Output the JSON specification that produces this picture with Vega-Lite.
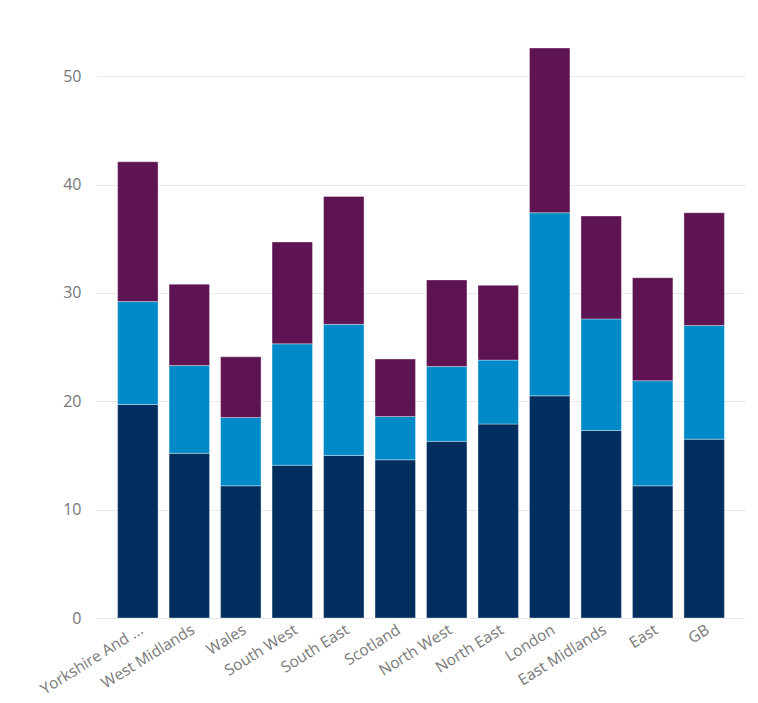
{
  "$schema": "https://vega.github.io/schema/vega-lite/v6.json",
  "width": 648,
  "height": 596,
  "autosize": "none",
  "padding": {"top": 22, "left": 97, "right": 13, "bottom": 85},
  "background": "white",
  "config": {
    "font": "Open Sans",
    "view": {"stroke": null}
  },
  "data": {
    "values": [
      {"region": "Yorkshire And The Humber", "series": "Series 1", "order": 1, "value": 19.7},
      {"region": "Yorkshire And The Humber", "series": "Series 2", "order": 2, "value": 9.5},
      {"region": "Yorkshire And The Humber", "series": "Series 3", "order": 3, "value": 12.9},
      {"region": "West Midlands", "series": "Series 1", "order": 1, "value": 15.2},
      {"region": "West Midlands", "series": "Series 2", "order": 2, "value": 8.1},
      {"region": "West Midlands", "series": "Series 3", "order": 3, "value": 7.5},
      {"region": "Wales", "series": "Series 1", "order": 1, "value": 12.2},
      {"region": "Wales", "series": "Series 2", "order": 2, "value": 6.3},
      {"region": "Wales", "series": "Series 3", "order": 3, "value": 5.6},
      {"region": "South West", "series": "Series 1", "order": 1, "value": 14.1},
      {"region": "South West", "series": "Series 2", "order": 2, "value": 11.2},
      {"region": "South West", "series": "Series 3", "order": 3, "value": 9.4},
      {"region": "South East", "series": "Series 1", "order": 1, "value": 15.0},
      {"region": "South East", "series": "Series 2", "order": 2, "value": 12.1},
      {"region": "South East", "series": "Series 3", "order": 3, "value": 11.8},
      {"region": "Scotland", "series": "Series 1", "order": 1, "value": 14.6},
      {"region": "Scotland", "series": "Series 2", "order": 2, "value": 4.0},
      {"region": "Scotland", "series": "Series 3", "order": 3, "value": 5.3},
      {"region": "North West", "series": "Series 1", "order": 1, "value": 16.3},
      {"region": "North West", "series": "Series 2", "order": 2, "value": 6.9},
      {"region": "North West", "series": "Series 3", "order": 3, "value": 8.0},
      {"region": "North East", "series": "Series 1", "order": 1, "value": 17.9},
      {"region": "North East", "series": "Series 2", "order": 2, "value": 5.9},
      {"region": "North East", "series": "Series 3", "order": 3, "value": 6.9},
      {"region": "London", "series": "Series 1", "order": 1, "value": 20.5},
      {"region": "London", "series": "Series 2", "order": 2, "value": 16.9},
      {"region": "London", "series": "Series 3", "order": 3, "value": 15.2},
      {"region": "East Midlands", "series": "Series 1", "order": 1, "value": 17.3},
      {"region": "East Midlands", "series": "Series 2", "order": 2, "value": 10.3},
      {"region": "East Midlands", "series": "Series 3", "order": 3, "value": 9.5},
      {"region": "East", "series": "Series 1", "order": 1, "value": 12.2},
      {"region": "East", "series": "Series 2", "order": 2, "value": 9.7},
      {"region": "East", "series": "Series 3", "order": 3, "value": 9.5},
      {"region": "GB", "series": "Series 1", "order": 1, "value": 16.5},
      {"region": "GB", "series": "Series 2", "order": 2, "value": 10.5},
      {"region": "GB", "series": "Series 3", "order": 3, "value": 10.4}
    ]
  },
  "mark": {"type": "bar", "stroke": "white", "strokeOpacity": 0.35, "strokeWidth": 1},
  "encoding": {
    "x": {
      "field": "region",
      "type": "nominal",
      "sort": null,
      "title": null,
      "scale": {"paddingInner": 0.214, "paddingOuter": 0.4},
      "axis": {
        "labelAngle": -32,
        "labelAlign": "right",
        "labelBaseline": "top",
        "labelFontSize": 15.5,
        "labelColor": "#777777",
        "labelPadding": 4,
        "labelLimit": 200,
        "ticks": false,
        "domain": false,
        "labelExpr": "datum.label == 'Yorkshire And The Humber' ? 'Yorkshire And ...' : datum.label"
      }
    },
    "y": {
      "field": "value",
      "type": "quantitative",
      "stack": "zero",
      "title": null,
      "scale": {"domain": [0, 55], "nice": false},
      "axis": {
        "values": [0, 10, 20, 30, 40, 50],
        "labelFontSize": 16,
        "labelColor": "#777777",
        "labelPadding": 16,
        "ticks": false,
        "domain": false,
        "gridColor": "#e8e8e8",
        "gridWidth": 1
      }
    },
    "color": {
      "field": "series",
      "type": "nominal",
      "scale": {"domain": ["Series 1", "Series 2", "Series 3"], "range": ["#002F5F", "#008AC8", "#5E1452"]},
      "legend": null
    },
    "order": {"field": "order", "type": "quantitative"}
  }
}
